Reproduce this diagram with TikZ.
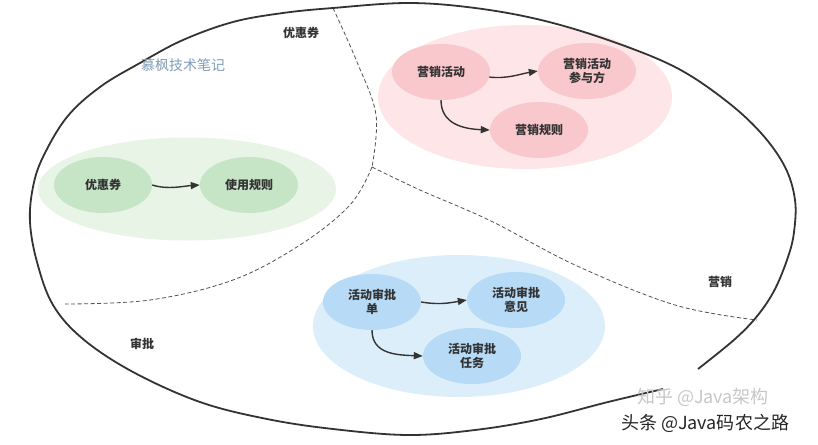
\documentclass[tikz,border=0pt]{standalone}
\usepackage{fontspec}
\setmainfont{Noto Sans CJK SC}
\usetikzlibrary{shapes.geometric,arrows.meta}
\definecolor{gbg}{HTML}{E8F4E6}
\definecolor{gnode}{HTML}{C6E4C6}
\definecolor{pbg}{HTML}{FDE5E8}
\definecolor{pnode}{HTML}{F9C8CD}
\definecolor{bbg}{HTML}{DDEEFB}
\definecolor{bnode}{HTML}{B7DAF6}
\definecolor{txt}{HTML}{333333}
\definecolor{brand}{HTML}{7F9DB9}
\tikzset{
  groupbg/.style={ellipse, inner sep=0pt, draw=none},
  item/.style={ellipse, inner sep=0pt, minimum width=98pt, minimum height=56pt, draw=none,
    font=\fontsize{12pt}{14.5pt}\selectfont\bfseries, text=txt, align=center},
  arr/.style={draw=txt, line width=1.4pt, -{Triangle[length=9pt,width=7pt]}},
  sep/.style={draw=txt!85, dashed, dash pattern=on 4pt off 2.5pt, line width=0.8pt},
  outer/.style={draw=txt, line width=1.8pt},
  lbl/.style={font=\fontsize{12pt}{14pt}\selectfont\bfseries, text=txt},
  wmark/.style={inner sep=0pt, font=\fontsize{18pt}{20pt}\selectfont}
}
\begin{document}
\begin{tikzpicture}[x=1pt,y=-1pt]
\useasboundingbox[fill=white] (0,0) rectangle (818,444);
% group backgrounds
\node[groupbg, fill=gbg, minimum width=298pt, minimum height=103pt] (ggrp) at (187,189) {};
\node[groupbg, fill=pbg, minimum width=294pt, minimum height=144pt] (pgrp) at (525,97) {};
\node[groupbg, fill=bbg, minimum width=292pt, minimum height=142pt] (bgrp) at (459,326) {};
% separators
\coordinate (jn) at (372,167);
\coordinate (stop) at (333,8);
\coordinate (sleft) at (65,304);
\coordinate (sright) at (757,320);
\draw[sep] plot[smooth, tension=0.6] coordinates {(333,8) (357,62) (376,115) (372,167)};
\draw[sep] plot[smooth, tension=0.6] coordinates {(372,167) (350,205) (300,245) (233,280) (150,300) (65,304)};
\draw[sep] plot[smooth, tension=0.6] coordinates {(372,167) (420,190) (491,221) (575,265) (675,305) (757,320)};
% outer boundary
\draw[outer] plot[smooth, tension=0.6] coordinates {
 (663,389) (608,402) (541,419) (475,430) (408,435) (333,429) (267,419) (200,402)
 (133,372) (83,339) (53,305) (37,262) (30,222) (33,187) (43,157) (67,117) (100,87)
 (140,63) (183,40) (233,22) (283,13) (333,8) (408,3) (475,8) (541,20) (608,40)
 (675,67) (725,100) (761,133) (785,167) (795,200) (794,232) (788,257) (775,289)
 (758,315) (735,339) (698,369)};
% nodes
\node[item, fill=gnode] (u1) at (103,185) {优惠券};
\node[item, fill=gnode] (u2) at (249,185) {使用规则};
\node[item, fill=pnode] (m1) at (441,72) {营销活动};
\node[item, fill=pnode] (m2) at (587,71) {营销活动\\参与方};
\node[item, fill=pnode] (m3) at (539,130) {营销规则};
\node[item, fill=bnode] (a1) at (372,302) {活动审批\\单};
\node[item, fill=bnode] (a2) at (516,300) {活动审批\\意见};
\node[item, fill=bnode] (a3) at (472,356) {活动审批\\任务};
% arrows
\draw[arr] (u1.east) .. controls +(16,5) and +(-16,1) .. (u2.west);
\draw[arr] (m1.-6) .. controls +(18,2) and +(-18,3) .. (m2.west);
\draw[arr] (m1.south) .. controls +(0,24) and +(-26,-1) .. (m3.west);
\draw[arr] (a1.east) .. controls +(18,3) and +(-18,3) .. (a2.west);
\draw[arr] (a1.south) .. controls +(0,24) and +(-26,-1) .. (a3.west);
% labels
\node[lbl] (lc) at (301,33) {优惠券};
\node[lbl] (lm) at (720,282) {营销};
\node[lbl] (la) at (142,344) {审批};
\node[font=\fontsize{14pt}{16pt}\selectfont, text=brand] (brand) at (183,65) {慕枫技术笔记};
% watermark
\node[wmark, text=black!22] (wm1) at (703,397) {知乎 @Java架构};
\node[wmark, text=black!85] (wm2) at (705,423) {头条 @Java码农之路};
\end{tikzpicture}
\end{document}
